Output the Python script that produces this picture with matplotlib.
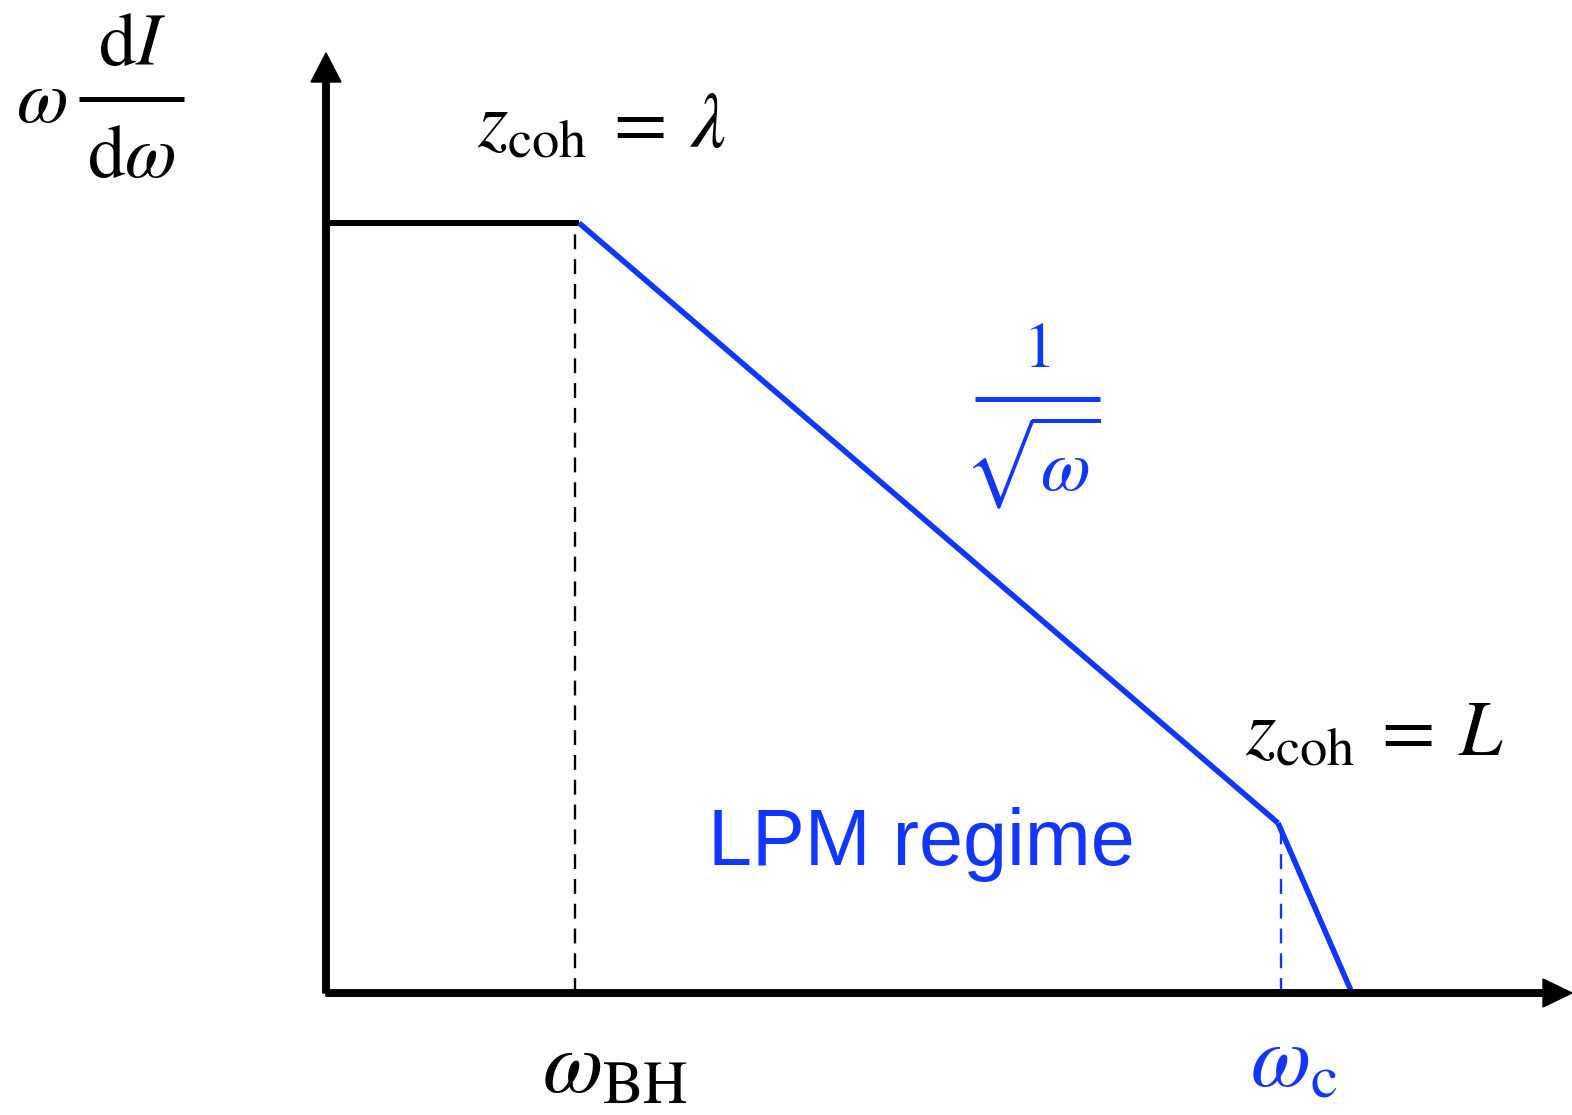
import matplotlib.pyplot as plt

plt.rcParams['mathtext.fontset'] = 'stix'
plt.rcParams['font.family'] = ['Liberation Serif', 'DejaVu Serif']

# Schematic spectrum: plateau, LPM 1/sqrt(omega) fall-off, steep cut-off
omega_bh = 2.53      # Bethe-Heitler end of plateau
omega_c = 9.52       # LPM critical frequency
omega_end = 10.26    # spectrum reaches zero
plateau = 7.70       # omega dI/domega on the plateau
knee = 1.70          # level at omega_c

plateau_x = [0.0, omega_bh]
plateau_y = [plateau, plateau]
lpm_x = [omega_bh, omega_c]
lpm_y = [plateau, knee]
cut_x = [omega_c, omega_end]
cut_y = [knee, 0.0]

BLUE = '#1236ff'

fig = plt.figure(figsize=(15.72, 11.15), dpi=100)
ax = fig.add_axes([0, 0, 1, 1])
ax.set_xlim(-3.26, 12.46)
ax.set_ylim(-1.22, 9.93)
ax.axis('off')

# axes with arrow heads
ax.arrow(0, 0, 0, 9.40, width=0.065, head_width=0.30, head_length=0.29,
         length_includes_head=True, color='black', zorder=3)
ax.arrow(0, 0, 12.46, 0, width=0.065, head_width=0.28, head_length=0.29,
         length_includes_head=True, color='black', zorder=3)

# spectrum pieces
ax.plot(plateau_x, plateau_y, color='black', lw=4.3, solid_capstyle='butt')
ax.plot(lpm_x, lpm_y, color=BLUE, lw=4.0, solid_capstyle='butt')
ax.plot(cut_x, cut_y, color=BLUE, lw=4.0, solid_capstyle='butt')

# drop lines
ax.plot([omega_bh - 0.04, omega_bh - 0.04], [0, plateau], color='black',
        lw=1.7, ls=(0, (6.3, 4.2)))
ax.plot([omega_c + 0.03, omega_c + 0.03], [0, knee], color=BLUE,
        lw=1.7, ls=(0, (6.3, 4.2)))

# y-axis label  omega dI/domega, built as a display fraction
ax.text(-2.84, 8.89, r'$\omega$', fontsize=54, ha='center', va='center')
ax.plot([-2.47, -1.42], [8.94, 8.94], color='black', lw=3.6,
        solid_capstyle='butt')
ax.text(-1.94, 9.28, r'$\mathrm{d}I$', fontsize=54, ha='center',
        va='baseline')
ax.text(-1.95, 8.16, r'$\mathrm{d}\omega$', fontsize=54, ha='center',
        va='baseline')

# coherence-length labels
ax.text(1.51, 8.46, r'$z_{\mathrm{coh}}\:=\:\lambda$', fontsize=56,
        ha='left', va='baseline')
ax.text(9.19, 2.38, r'$z_{\mathrm{coh}}\:=\:L$', fontsize=56,
        ha='left', va='baseline')

# slope label 1/sqrt(omega)
ax.text(7.11, 6.26, r'$1$', fontsize=46, ha='center', va='baseline',
        color=BLUE)
ax.plot([6.49, 7.74], [5.94, 5.94], color=BLUE, lw=3.6,
        solid_capstyle='butt')
ax.text(7.06, 5.80, r'$\sqrt{\omega}$', fontsize=52, ha='center', va='top',
        color=BLUE)

ax.text(5.95, 1.48, 'LPM regime', fontsize=57, ha='center', va='center',
        color=BLUE, family=['Liberation Sans', 'DejaVu Sans'])

# frequency labels under the axis
ax.text(2.16, -0.99, r'$\omega_{\mathrm{BH}}$', fontsize=63,
        ha='left', va='baseline')
ax.text(9.24, -0.94, r'$\omega_{\mathrm{c}}$', fontsize=63,
        ha='left', va='baseline', color=BLUE)

fig.savefig('out.png', dpi=100)
